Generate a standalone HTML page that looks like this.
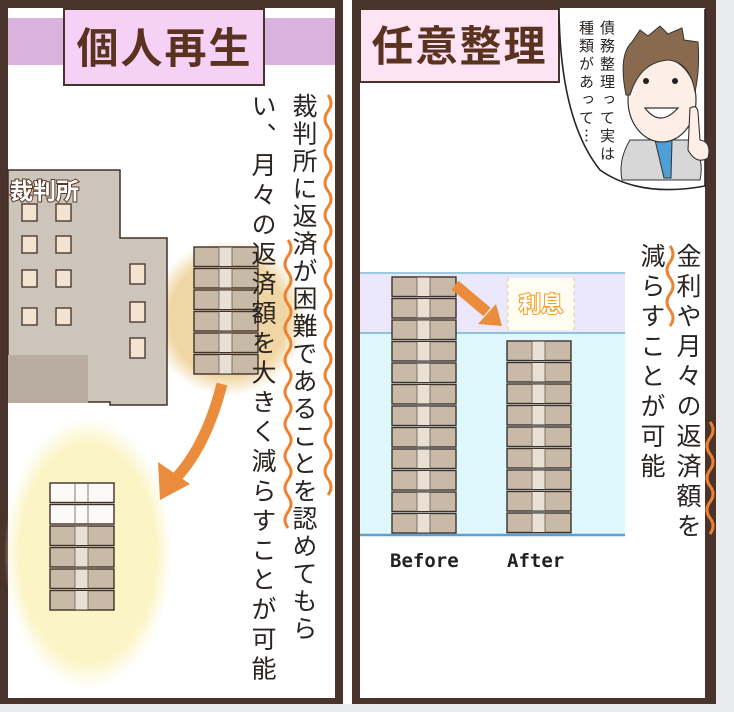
<!DOCTYPE html>
<html><head><meta charset="utf-8"><style>
html,body{margin:0;padding:0;}
body{width:734px;height:712px;position:relative;overflow:hidden;background:#e9ebed;font-family:"Liberation Sans","Noto Sans CJK JP",sans-serif;}
.v{position:absolute;writing-mode:vertical-rl;font-family:"Noto Sans CJK JP",sans-serif;color:#2a2522;white-space:nowrap;}
</style></head><body>
<svg width="734" height="712" style="position:absolute;left:0;top:0">
<defs>
<pattern id="bill" width="66" height="21.5" patternUnits="userSpaceOnUse">
<rect x="1" y="1" width="64" height="19.5" fill="#c8baa7" stroke="#3e302a" stroke-width="1.4"/>
<rect x="26" y="1.5" width="13" height="18.5" fill="#e8e0d4"/>
<line x1="26" y1="1" x2="26" y2="20.5" stroke="#6a5a50" stroke-width="0.8"/>
<line x1="39" y1="1" x2="39" y2="20.5" stroke="#6a5a50" stroke-width="0.8"/>
</pattern>
<pattern id="billw" width="66" height="21.5" patternUnits="userSpaceOnUse">
<rect x="1" y="1" width="64" height="19.5" fill="#fbfaf8" stroke="#3e302a" stroke-width="1.4"/>
<line x1="26" y1="1" x2="26" y2="20.5" stroke="#6a5a50" stroke-width="0.8"/>
<line x1="39" y1="1" x2="39" y2="20.5" stroke="#6a5a50" stroke-width="0.8"/>
</pattern>
<radialGradient id="og"><stop offset="0.75" stop-color="#f0d6a4"/><stop offset="1" stop-color="#f0d6a4" stop-opacity="0"/></radialGradient>
<radialGradient id="yg"><stop offset="0.8" stop-color="#fbf4c4"/><stop offset="1" stop-color="#fbf4c4" stop-opacity="0"/></radialGradient>
</defs>
<rect x="0" y="0" width="734" height="712" fill="#e9ebed"/>
<rect x="0" y="0" width="716" height="704" fill="#4a332a"/>
<rect x="8" y="8" width="327" height="690" fill="#fff"/>
<rect x="343" y="0" width="9" height="704" fill="#fff"/>
<rect x="360" y="8" width="345" height="690" fill="#fff"/>
<rect x="8" y="18" width="327" height="47" fill="#d9b3de"/>
<rect x="64" y="9" width="200" height="76" fill="#f5d2f5" stroke="#4a332a" stroke-width="2"/>
<ellipse cx="228" cy="318" rx="78" ry="78" fill="url(#og)"/>
<ellipse cx="88" cy="553" rx="84" ry="135" fill="url(#yg)"/>
<path d="M8 170 H120 V238 H167 V405 H110 V402 H8 Z" fill="#cdc4ba" stroke="#3e302a" stroke-width="1.5"/>
<rect x="8" y="355" width="80" height="48" fill="#b8aba0"/>
<g fill="#f4e3d0" stroke="#3e302a" stroke-width="1.3">
<rect x="22" y="204" width="15" height="17"/><rect x="56" y="204" width="15" height="17"/>
<rect x="22" y="236" width="15" height="17"/><rect x="56" y="236" width="15" height="17"/>
<rect x="22" y="270" width="15" height="17"/><rect x="56" y="270" width="15" height="17"/>
<rect x="22" y="308" width="15" height="17"/><rect x="56" y="308" width="15" height="17"/>
<rect x="130" y="264" width="15" height="20"/><rect x="130" y="302" width="15" height="20"/><rect x="130" y="338" width="15" height="20"/>
</g>
<g transform="translate(193,246)"><rect width="66" height="129" fill="url(#bill)"/></g>
<g transform="translate(49,482)"><rect width="66" height="43" fill="url(#billw)"/></g>
<g transform="translate(49,525)"><rect width="66" height="86" fill="url(#bill)"/></g>
<path d="M222 384 Q205 450 172 482" fill="none" stroke="#eb8c3c" stroke-width="11"/>
<path d="M160 500 L158 462 L190 484 Z" fill="#eb8c3c"/>
<path d="M328 95 q6 8 0 16 q-6 8 0 16 q6 8 0 16 q-6 8 0 16 q6 8 0 16 q-6 8 0 16 q6 8 0 16 q-6 8 0 16 q6 8 0 16 q-6 8 0 16 q6 8 0 16 q-6 8 0 16 q6 8 0 16 q-6 8 0 16 q6 8 0 16 q-6 8 0 16 q6 8 0 16 q-6 8 0 16 q6 8 0 16 q-6 8 0 16 q6 8 0 16 q-6 8 0 16 q6 8 0 16 q-6 8 0 16 q6 8 0 16" fill="none" stroke="#ee8230" stroke-width="3"/>
<path d="M288 240 q6 8 0 16 q-6 8 0 16 q6 8 0 16 q-6 8 0 16 q6 8 0 16 q-6 8 0 16 q6 8 0 16 q-6 8 0 16 q6 8 0 16 q-6 8 0 16 q6 8 0 16 q-6 8 0 16 q6 8 0 16 q-6 8 0 16 q6 8 0 16 q-6 8 0 16 q6 8 0 16 q-6 8 0 16" fill="none" stroke="#ee8230" stroke-width="3"/>
<rect x="360" y="273" width="265" height="60" fill="#ebe8fb"/>
<rect x="360" y="333" width="265" height="202" fill="#def8fd"/>
<line x1="360" y1="273" x2="625" y2="273" stroke="#9ccbe0" stroke-width="2"/>
<line x1="360" y1="333" x2="625" y2="333" stroke="#8ec1dc" stroke-width="2"/>
<line x1="360" y1="535" x2="625" y2="535" stroke="#5d9fd0" stroke-width="2.5"/>
<rect x="360" y="9" width="199" height="73" fill="#fde3f3" stroke="#4a332a" stroke-width="2"/>
<g transform="translate(391,276)"><rect width="66" height="258" fill="url(#bill)"/></g>
<g transform="translate(506,340)"><rect width="66" height="194" fill="url(#bill)"/></g>
<rect x="508" y="278" width="66" height="52" fill="#fffdf2"/>
<line x1="508" y1="278" x2="508" y2="330" stroke="#e8c870" stroke-dasharray="3 4"/>
<line x1="574" y1="278" x2="574" y2="330" stroke="#e8c870" stroke-dasharray="3 4"/>
<path d="M455 285 L487 312" stroke="#eb8c3c" stroke-width="11"/>
<path d="M502 326 L478 324 L496 304 Z" fill="#eb8c3c"/>
<path d="M670 246 q6 8 0 16 q-6 8 0 16 q6 8 0 16 q-6 8 0 16 q6 8 0 16" fill="none" stroke="#ee8230" stroke-width="3"/>
<path d="M710 422 q6 8 0 16 q-6 8 0 16 q6 8 0 16 q-6 8 0 16 q6 8 0 16 q-6 8 0 16 q6 8 0 16" fill="none" stroke="#ee8230" stroke-width="3"/>
<path d="M559 9 Q560 120 600 170 Q640 198 705 186 L705 9" fill="#fff" stroke="#2a2522" stroke-width="1.6"/>
<path d="M630 140 Q618 160 622 180 L700 180 Q705 158 690 140 Z" fill="#d7d7d7" stroke="#333" stroke-width="1"/>
<path d="M655 140 L664 178 L671 178 L672 140 Z" fill="#4f9fd6" stroke="#333" stroke-width="1"/>
<ellipse cx="662" cy="100" rx="34" ry="42" fill="#fdeee6" stroke="#333" stroke-width="1.2"/>
<path d="M626 95 Q618 55 632 42 L640 30 L648 36 L660 26 L668 34 L682 28 L684 40 L698 42 Q700 70 695 92 Q690 62 668 60 Q640 62 630 95 Z" fill="#8a6a4e" stroke="#333" stroke-width="1"/>
<circle cx="646" cy="81" r="3" fill="#222"/><circle cx="675" cy="81" r="3" fill="#222"/>
<path d="M645 108 Q660 128 678 108 Z" fill="#fff" stroke="#333" stroke-width="1.2"/>
<path d="M688 150 L690 108 Q697 104 698 112 L700 140 Q712 142 708 158 Q696 165 688 150 Z" fill="#fdeee6" stroke="#333" stroke-width="1.1"/>
</svg>
<div style="position:absolute;left:64px;top:12px;width:201px;text-align:center;font-family:'Noto Sans CJK JP',sans-serif;font-weight:700;font-size:42px;line-height:68px;color:#5a3320;letter-spacing:2px">個人再生</div>
<div style="position:absolute;left:360px;top:10px;width:199px;text-align:center;font-family:'Noto Sans CJK JP',sans-serif;font-weight:700;font-size:42px;line-height:68px;color:#5a3320;letter-spacing:2px">任意整理</div>
<div style="position:absolute;left:10px;top:172px;font-family:'Noto Sans CJK JP',sans-serif;font-weight:700;font-size:23px;color:#fff;-webkit-text-stroke:2px #5a3a2a;paint-order:stroke fill">裁判所</div>
<div class="v" style="left:290px;top:93px;font-size:25px;letter-spacing:2.5px;line-height:30px">裁判所に返済が困難であることを認めてもら</div>
<div class="v" style="left:249px;top:93px;font-size:25px;letter-spacing:4.6px;line-height:30px">い、月々の返済額を大きく減らすことが可能</div>
<div class="v" style="left:674px;top:243px;font-size:25px;letter-spacing:5px;line-height:30px">金利や月々の返済額を</div>
<div class="v" style="left:638px;top:243px;font-size:25px;letter-spacing:5px;line-height:30px">減らすことが可能</div>
<div class="v" style="left:598px;top:20px;font-size:15px;line-height:18px;letter-spacing:3px">債務整理って実は</div>
<div class="v" style="left:577px;top:20px;font-size:15px;line-height:18px;letter-spacing:3px">種類があって…</div>
<div style="position:absolute;left:509px;top:287px;width:64px;text-align:center;font-family:'Noto Sans CJK JP',sans-serif;font-weight:700;font-size:22px;color:#fff;-webkit-text-stroke:2px #f0a020;paint-order:stroke fill">利息</div>
<div style="position:absolute;left:390px;top:550px;font-family:'DejaVu Sans Mono','Liberation Mono',monospace;font-weight:700;font-size:19px;color:#222">Before</div>
<div style="position:absolute;left:507px;top:550px;font-family:'DejaVu Sans Mono','Liberation Mono',monospace;font-weight:700;font-size:19px;color:#222">After</div>
</body></html>
